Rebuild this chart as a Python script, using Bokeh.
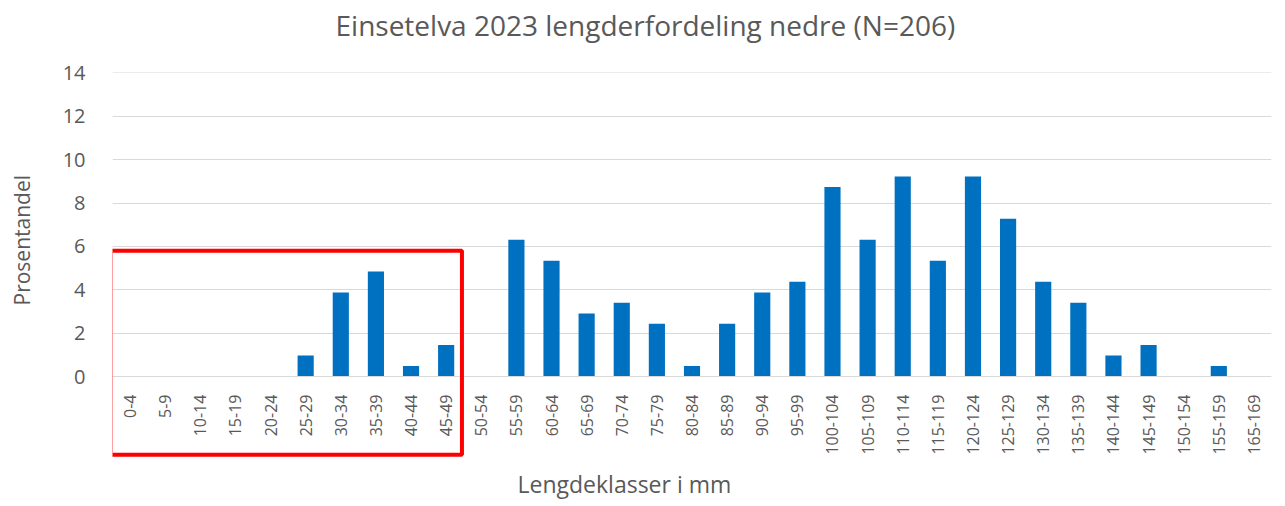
from bokeh.plotting import figure
from bokeh.models import FactorRange, Range1d, FixedTicker, BoxAnnotation, Title, ColumnDataSource
from bokeh.embed import file_html
from bokeh.resources import INLINE

categories = ["0-4", "5-9", "10-14", "15-19", "20-24", "25-29", "30-34", "35-39", "40-44", "45-49",
              "50-54", "55-59", "60-64", "65-69", "70-74", "75-79", "80-84", "85-89", "90-94", "95-99",
              "100-104", "105-109", "110-114", "115-119", "120-124", "125-129", "130-134", "135-139",
              "140-144", "145-149", "150-154", "155-159", "165-169"]
percent = [0, 0, 0, 0, 0, 0.97, 3.88, 4.85, 0.49, 1.46,
           0, 6.31, 5.34, 2.91, 3.40, 2.43, 0.49, 2.43, 3.88, 4.37,
           8.74, 6.31, 9.22, 5.34, 9.22, 7.28, 4.37, 3.40,
           0.97, 1.46, 0, 0.49, 0]
y_ticks = [0, 2, 4, 6, 8, 10, 12, 14]

title_text = "Einsetelva 2023 lengderfordeling nedre (N=206)"
x_title = "Lengdeklasser i mm"
y_title = "Prosentandel"

FONT = "Open Sans"
GREY = "#595959"

src = ColumnDataSource(dict(cat=categories, val=percent))

p = figure(width=1280, height=504, x_range=FactorRange(*categories, range_padding=0),
           y_range=Range1d(-3.87, 14.02), output_backend="svg", toolbar_location=None,
           min_border_left=112, min_border_right=9, min_border_top=72, min_border_bottom=10)
p.title = None
p.outline_line_color = None
p.background_fill_color = "white"
p.border_fill_color = "white"

p.vbar(x="cat", top="val", width=0.46, source=src, fill_color="#0070C0", line_color=None)

p.yaxis.ticker = FixedTicker(ticks=y_ticks)
p.yaxis.axis_line_color = None
p.yaxis.major_tick_line_color = None
p.yaxis.minor_tick_line_color = None
p.yaxis.major_label_text_font = FONT
p.yaxis.major_label_text_font_size = "20px"
p.yaxis.major_label_text_color = GREY
p.yaxis.major_label_standoff = 21

p.xaxis.fixed_location = 0
p.xaxis.axis_line_color = "#D9D9D9"
p.xaxis.major_tick_line_color = None
p.xaxis.minor_tick_line_color = None
p.xaxis.major_label_orientation = 1.5707963
p.xaxis.major_label_text_font = FONT
p.xaxis.major_label_text_font_size = "16px"
p.xaxis.major_label_text_color = GREY
p.xaxis.major_label_standoff = 12

p.xgrid.grid_line_color = None
p.ygrid.grid_line_color = "#D9D9D9"
p.ygrid.grid_line_width = 1

box = BoxAnnotation(left=-0.05, right=9.95, top=5.8, bottom=-3.6, fill_alpha=0, fill_color=None,
                    line_color="#FF0000", line_width=4, line_alpha=1)
p.add_layout(box)

# spacers then titles (outer panels stack outward)
p.add_layout(Title(text=" ", text_font_size="9px"), "above")
p.add_layout(Title(text=title_text, align="left", offset=223, text_font=FONT, text_font_size="28px",
                   text_color=GREY, text_font_style="normal", text_line_height=1.0,
                   vertical_align="top"), "above")
p.add_layout(Title(text=x_title, align="left", offset=405, text_font=FONT, text_font_size="23px",
                   text_color=GREY, text_font_style="normal"), "below")
p.add_layout(Title(text=" ", text_font_size="4px"), "left")
p.add_layout(Title(text=y_title, align="left", offset=155, text_font=FONT, text_font_size="21px",
                   text_color=GREY, text_font_style="normal", vertical_align="top"), "left")

open("out.html", "w").write(file_html(p, INLINE))
